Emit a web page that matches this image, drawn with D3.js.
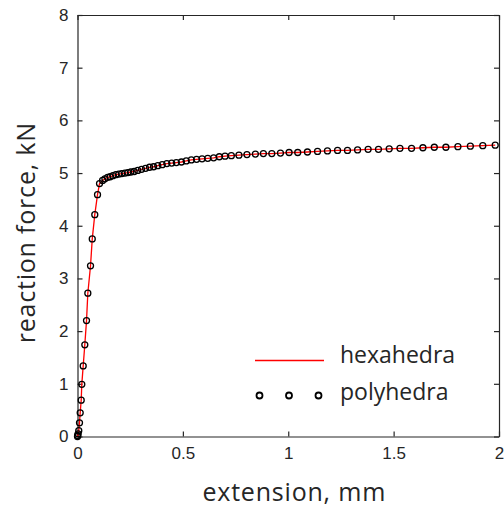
<!DOCTYPE html>
<html lang="en">
<head>
    <meta charset="UTF-8">
    <title>Reaction force vs extension</title>
    <script src="https://d3js.org/d3.v7.min.js"></script>
    <style>
        body { margin: 0; background: #fff; }
        svg { display: block; }
        .tick text { font-family: "Liberation Sans", Arial, sans-serif; font-size: 17px; fill: #262626; }
        .tick line, .domain { stroke: #262626; }
        .label { font-family: "Open Sans", sans-serif; font-size: 25px; letter-spacing: 0.8px; fill: #262626; }
        .legend text { font-family: "Open Sans", sans-serif; font-size: 23px; fill: #262626; }
    </style>
</head>
<body>
    <svg id="chart" width="504" height="510"></svg>
    <script>
        // extension in mm, force in kN
        const extension = [0, 0.001, 0.003, 0.006, 0.0095, 0.0128, 0.0176, 0.0204, 0.027, 0.0347,
            0.0428, 0.049, 0.0618, 0.070, 0.082, 0.095, 0.1045,
            0.119, 0.130, 0.143, 0.155, 0.168, 0.182, 0.196, 0.210, 0.225, 0.239,
            0.253, 0.269, 0.286, 0.304, 0.323, 0.342, 0.361, 0.381, 0.402, 0.424,
            0.447, 0.469, 0.493, 0.516, 0.540, 0.565, 0.591, 0.618, 0.646, 0.673,
            0.700, 0.730, 0.766, 0.804, 0.844, 0.882, 0.922, 0.963, 1.004, 1.045,
            1.091, 1.139, 1.186, 1.234, 1.281, 1.329, 1.379, 1.428, 1.479, 1.530,
            1.585, 1.639, 1.693, 1.748, 1.805, 1.864, 1.923, 1.982];
        const hexahedra = [0, 0.02, 0.05, 0.11, 0.26, 0.45, 0.69, 0.99, 1.34, 1.74,
            2.20, 2.72, 3.24, 3.75, 4.21, 4.59, 4.80,
            4.86, 4.89, 4.92, 4.93, 4.95, 4.97, 4.98, 4.99, 5.00, 5.01,
            5.02, 5.03, 5.05, 5.07, 5.09, 5.11, 5.12, 5.14, 5.16, 5.18,
            5.19, 5.20, 5.21, 5.23, 5.25, 5.26, 5.27, 5.28, 5.29, 5.31,
            5.32, 5.33, 5.34, 5.35, 5.36, 5.37, 5.37, 5.38, 5.39, 5.39,
            5.40, 5.41, 5.42, 5.43, 5.43, 5.44, 5.45, 5.45, 5.46, 5.47,
            5.47, 5.48, 5.49, 5.49, 5.50, 5.51, 5.52, 5.53];
        const polyhedra = [0, 0.02, 0.05, 0.11, 0.26, 0.45, 0.69, 0.99, 1.34, 1.74,
            2.20, 2.72, 3.24, 3.75, 4.21, 4.59, 4.80,
            4.86, 4.89, 4.92, 4.93, 4.95, 4.97, 4.98, 4.99, 5.00, 5.01,
            5.02, 5.03, 5.05, 5.07, 5.09, 5.11, 5.12, 5.14, 5.16, 5.18,
            5.19, 5.20, 5.21, 5.23, 5.25, 5.26, 5.27, 5.28, 5.29, 5.31,
            5.32, 5.33, 5.34, 5.35, 5.36, 5.37, 5.37, 5.38, 5.39, 5.39,
            5.40, 5.41, 5.42, 5.43, 5.43, 5.44, 5.45, 5.45, 5.46, 5.47,
            5.47, 5.48, 5.49, 5.49, 5.50, 5.51, 5.52, 5.53];
        const xTicks = [0, 0.5, 1, 1.5, 2];
        const yTicks = [0, 1, 2, 3, 4, 5, 6, 7, 8];
        const seriesNames = ["hexahedra", "polyhedra"];

        const plotLeft = 77.5, plotRight = 499, plotTop = 15, plotBottom = 436.5;
        const svg = d3.select("#chart");

        const x = d3.scaleLinear().domain([0, 2]).range([plotLeft, plotRight]);
        const y = d3.scaleLinear().domain([0, 8]).range([plotBottom, plotTop]);

        // box with inward ticks on all four sides
        svg.append("g")
            .attr("transform", `translate(0,${plotBottom})`)
            .call(d3.axisBottom(x).tickValues(xTicks).tickSize(-5).tickSizeOuter(0)
                .tickPadding(10).tickFormat(d3.format("~g")));
        svg.append("g")
            .attr("transform", `translate(0,${plotTop})`)
            .call(d3.axisTop(x).tickValues(xTicks).tickSize(-5).tickSizeOuter(0).tickFormat(""));
        svg.append("g")
            .attr("transform", `translate(${plotLeft},0)`)
            .call(d3.axisLeft(y).tickValues(yTicks).tickSize(-5).tickSizeOuter(0).tickPadding(9));
        svg.append("g")
            .attr("transform", `translate(${plotRight},0)`)
            .call(d3.axisRight(y).tickValues(yTicks).tickSize(-5).tickSizeOuter(0).tickFormat(""));

        svg.selectAll(".domain").attr("stroke-width", 1.2);
        svg.selectAll(".tick line").attr("stroke-width", 1.2);

        const line = d3.line()
            .x((d, i) => x(extension[i]))
            .y(d => y(d));

        svg.append("path")
            .datum(hexahedra)
            .attr("fill", "none")
            .attr("stroke", "#ff0000")
            .attr("stroke-width", 1.3)
            .attr("d", line);

        svg.append("g")
            .selectAll("circle")
            .data(polyhedra)
            .join("circle")
            .attr("cx", (d, i) => x(extension[i]))
            .attr("cy", d => y(d))
            .attr("r", 3)
            .attr("fill", "none")
            .attr("stroke", "#000")
            .attr("stroke-width", 1.3);

        // axis titles
        svg.append("text")
            .attr("class", "label")
            .attr("x", (plotLeft + plotRight) / 2 + 6)
            .attr("y", 501)
            .attr("text-anchor", "middle")
            .text("extension, mm");

        svg.append("text")
            .attr("class", "label")
            .attr("transform", `translate(35,${(plotTop + plotBottom) / 2 + 7}) rotate(-90)`)
            .attr("text-anchor", "middle")
            .text("reaction force, kN");

        // legend
        const legend = svg.append("g").attr("class", "legend");
        legend.append("line")
            .attr("x1", 255).attr("x2", 324)
            .attr("y1", 360.5).attr("y2", 360.5)
            .attr("stroke", "#ff0000")
            .attr("stroke-width", 1.5);
        legend.selectAll("circle")
            .data([259.5, 289, 318.5])
            .join("circle")
            .attr("cx", d => d)
            .attr("cy", 395.5)
            .attr("r", 3)
            .attr("fill", "none")
            .attr("stroke", "#000")
            .attr("stroke-width", 1.8);
        legend.selectAll("text")
            .data(seriesNames)
            .join("text")
            .attr("x", 340)
            .attr("y", (d, i) => 362.5 + i * 37)
            .text(d => d);
    </script>
</body>
</html>
